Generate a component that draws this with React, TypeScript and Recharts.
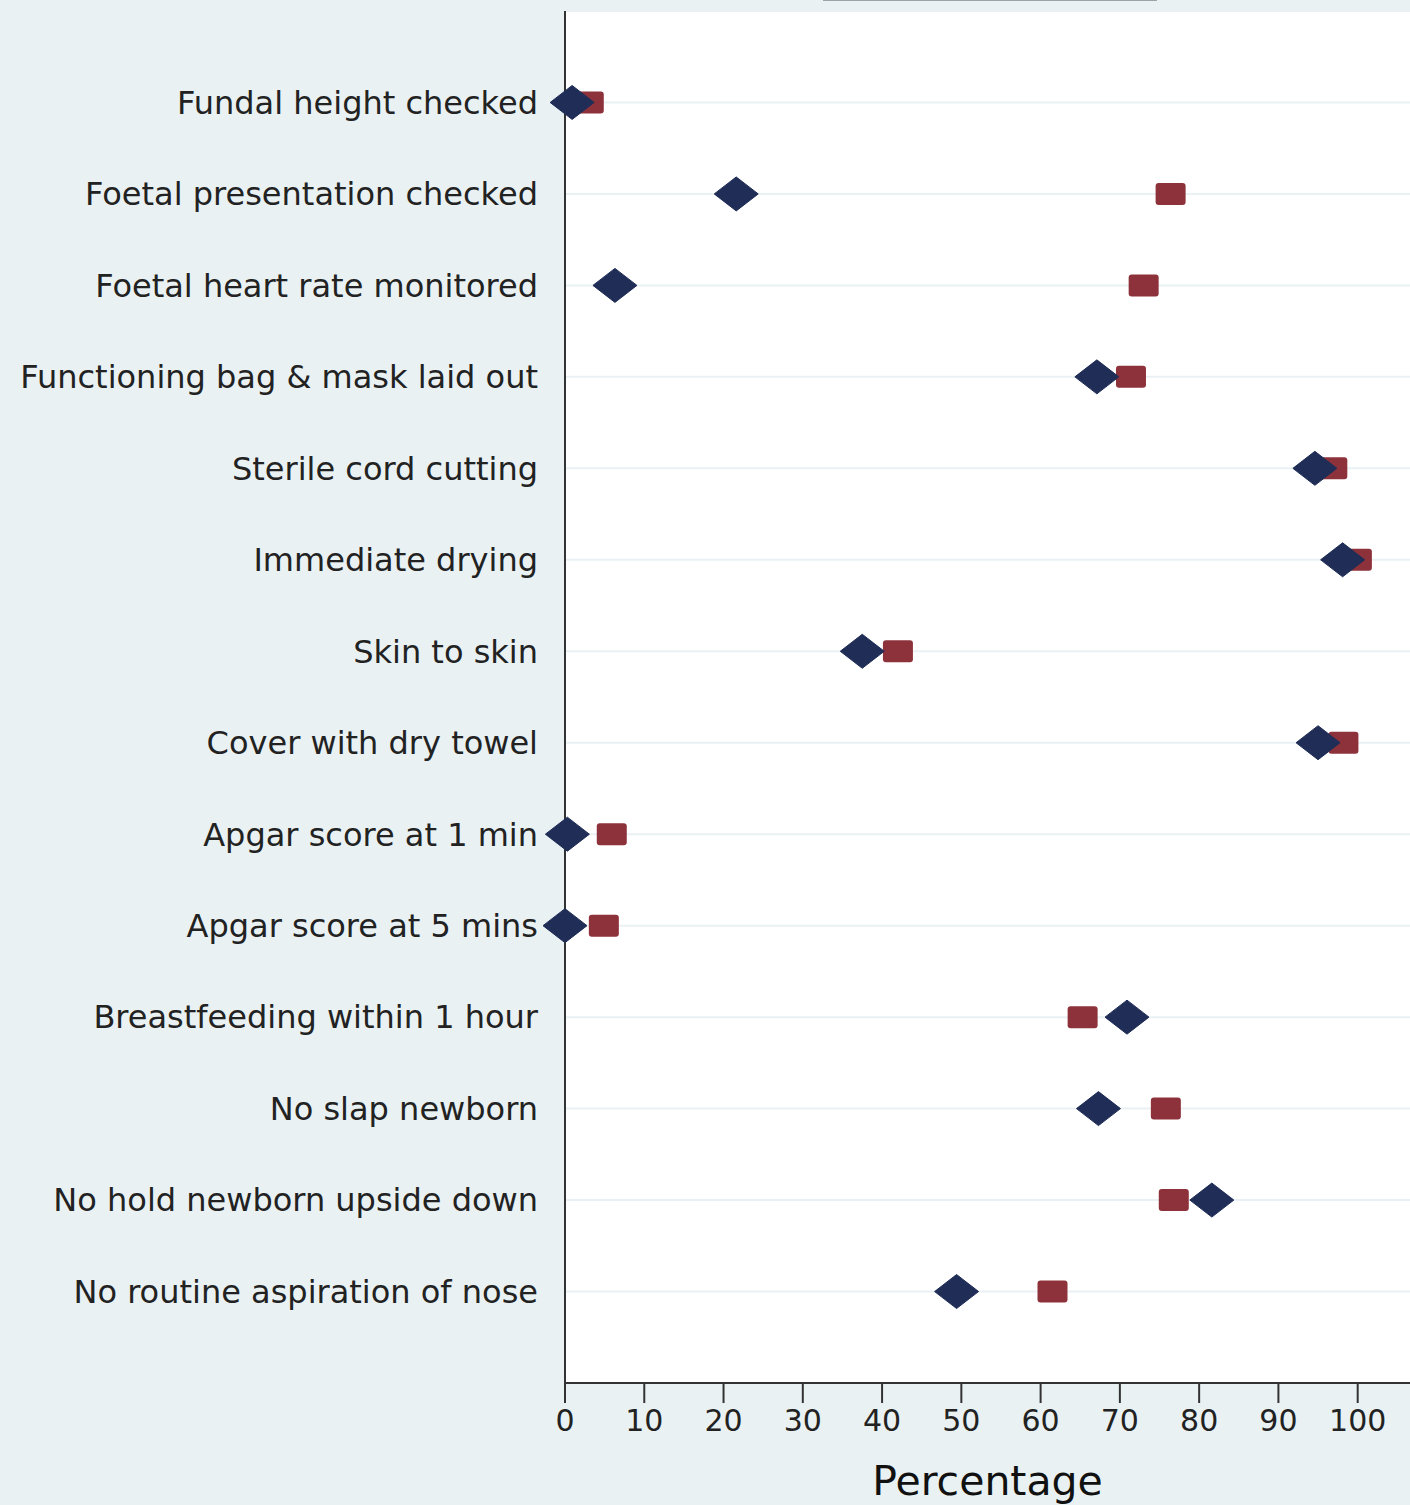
import React from 'react';
import { ScatterChart, Scatter, XAxis, YAxis, CartesianGrid } from 'recharts';

const categories: string[] = [
  'Fundal height checked',
  'Foetal presentation checked',
  'Foetal heart rate monitored',
  'Functioning bag & mask laid out',
  'Sterile cord cutting',
  'Immediate drying',
  'Skin to skin',
  'Cover with dry towel',
  'Apgar score at 1 min',
  'Apgar score at 5 mins',
  'Breastfeeding within 1 hour',
  'No slap newborn',
  'No hold newborn upside down',
  'No routine aspiration of nose',
];

// navy diamonds
const diamondValues: number[] = [0.9, 21.6, 6.3, 67.1, 94.6, 98.1, 37.5, 95, 0.3, 0, 70.9, 67.3, 81.6, 49.4];
// red squares
const squareValues: number[] = [3, 76.4, 73, 71.4, 96.8, 99.9, 42, 98.2, 5.9, 4.9, 65.3, 75.8, 76.8, 61.5];

const xTicks: number[] = [0, 10, 20, 30, 40, 50, 60, 70, 80, 90, 100];

const diamondData = diamondValues.map((v, i) => ({ x: v, y: i }));
const squareData = squareValues.map((v, i) => ({ x: v, y: i }));

const NAVY = '#1f2d57';
const RED = '#8d323b';
const BG = '#e9f1f3';
const FONT = '"DejaVu Sans", Verdana, sans-serif';

const Diamond = (props: any) => {
  const { cx, cy } = props;
  const w = 22;
  const h = 17;
  return (
    <polygon
      points={`${cx - w},${cy} ${cx},${cy - h} ${cx + w},${cy} ${cx},${cy + h}`}
      fill={NAVY}
      stroke={NAVY}
      strokeWidth={1}
      strokeLinejoin="round"
    />
  );
};

const Square = (props: any) => {
  const { cx, cy } = props;
  return <rect x={cx - 15} y={cy - 11} width={30} height={22} rx={3} fill={RED} />;
};

const App: React.FC = () => {
  return (
    <div style={{ position: 'absolute', left: 0, top: 0, width: 1410, height: 1505, background: BG, overflow: 'hidden' }}>
      <div style={{ position: 'absolute', left: 823, top: 0, width: 334, height: 1, background: '#9aa3a8' }} />
      <ScatterChart width={1410} height={1505} margin={{ top: 11, right: 0, bottom: 0, left: 0 }}>
        <CartesianGrid vertical={false} fill="#ffffff" stroke="#eaf1f4" strokeWidth={2} />
        <XAxis
          type="number"
          dataKey="x"
          domain={[0, 106.6]}
          ticks={xTicks}
          height={122}
          axisLine={{ stroke: '#333', strokeWidth: 2 }}
          tickLine={{ stroke: '#333', strokeWidth: 2 }}
          tickSize={20}
          tickMargin={7}
          tick={{ fill: '#222', fontSize: 30, fontFamily: FONT }}
          label={{ value: 'Percentage', position: 'insideBottom', offset: 10, fill: '#111', fontSize: 41, fontFamily: FONT }}
        />
        <YAxis
          type="number"
          dataKey="y"
          domain={[-1, 14]}
          reversed
          ticks={categories.map((_, i) => i)}
          tickFormatter={(v: number) => categories[v] ?? ''}
          width={565}
          axisLine={{ stroke: '#333', strokeWidth: 2 }}
          tickLine={false}
          tickSize={0}
          tickMargin={27}
          tick={{ fill: '#222', fontSize: 32, fontFamily: FONT }}
          interval={0}
        />
        <Scatter data={squareData} shape={Square} isAnimationActive={false} />
        <Scatter data={diamondData} shape={Diamond} isAnimationActive={false} />
      </ScatterChart>
    </div>
  );
};

export default App;
